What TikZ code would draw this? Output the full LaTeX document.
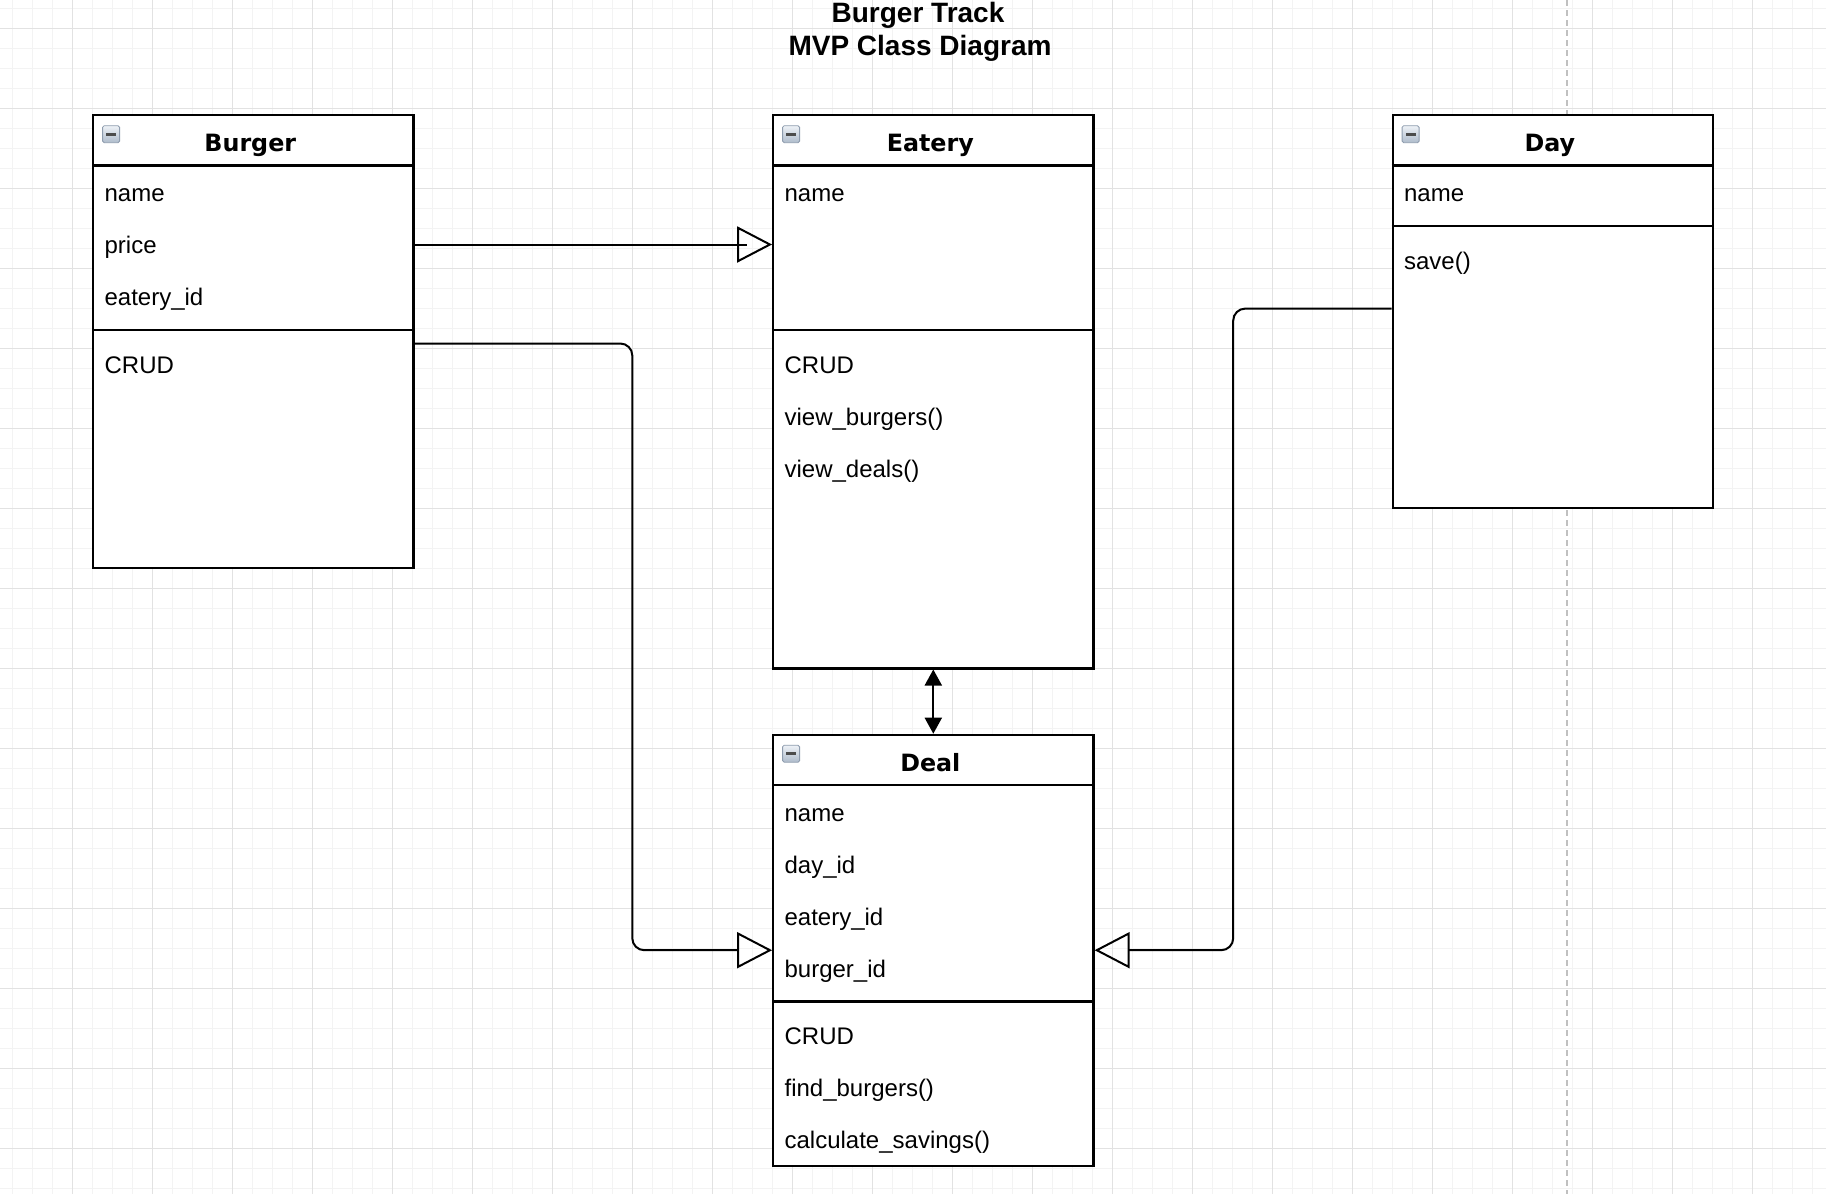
\documentclass[tikz,border=0pt]{standalone}
\usepackage{fontspec}
\setmainfont{Liberation Sans}
\newfontfamily\hdrfont{DejaVu Sans}
\usetikzlibrary{arrows.meta,fit,calc}
\definecolor{gridminor}{HTML}{F3F3F3}
\definecolor{gridmajor}{HTML}{E2E2E2}
\definecolor{dashgray}{HTML}{C0C0C0}
\definecolor{icontop}{HTML}{EEF2F7}
\definecolor{iconbot}{HTML}{AEBBCB}
\definecolor{iconedge}{HTML}{8E9CAE}
\tikzset{
  classbox/.style={draw, line width=1.1pt, fill=white, inner sep=0pt},
  sepline/.style={line width=1.1pt},
  rowtext/.style={anchor=base west, inner sep=0pt, font=\fontsize{12}{14}\selectfont},
  hdrtext/.style={anchor=base, inner sep=0pt, font=\hdrfont\bfseries\fontsize{11.9}{13}\selectfont},
  titletext/.style={anchor=base, inner sep=0pt, font=\bfseries\fontsize{14}{16}\selectfont},
  conn/.style={line width=1pt},
  gen/.style={conn, -{Triangle[open, length=17.5pt, width=18pt]}},
  assoc/.style={conn, {Triangle[length=8pt, width=8.5pt]}-{Triangle[length=8pt, width=8.5pt]}},
  iconbox/.style={draw=iconedge, line width=0.4pt, top color=icontop, bottom color=iconbot,
    minimum size=8.5pt, inner sep=0pt, rounded corners=0.8pt, anchor=north west},
  gminor/.style={draw=gridminor, line width=0.5pt},
  gmajor/.style={draw=gridmajor, line width=0.5pt},
}
\newcommand\mkicon[2]{%
  \node[iconbox] (#1) at (#2) {};
  \fill[black!70] ($(#1.center)+(-5,-1.5)$) rectangle ($(#1.center)+(5,1.5)$);
}
\begin{document}
\begin{tikzpicture}[x=0.5pt, y=-0.5pt]
\useasboundingbox (0,0) rectangle (1826,1194);
\fill[white] (0,0) rectangle (1826,1194);
% grid
\foreach \i in {0,...,90} {\draw[gminor] (12.7+20*\i,0) -- (12.7+20*\i,1194);}
\foreach \i in {0,...,59} {\draw[gminor] (0,8.3+20*\i) -- (1826,8.3+20*\i);}
\foreach \i in {0,...,21} {\draw[gmajor] (72.7+80*\i,0) -- (72.7+80*\i,1194);}
\foreach \i in {0,...,14} {\draw[gmajor] (0,28.3+80*\i) -- (1826,28.3+80*\i);}
% page break dashed line
\coordinate (pbtop) at (1566.7,0);
\coordinate (pbbot) at (1566.7,1194);
\draw[dashgray, line width=0.9pt, dash pattern=on 3pt off 2pt] (pbtop) -- (pbbot);

% title
\node[titletext] (title1) at (918,22.5) {Burger Track};
\node[titletext] (title2) at (920,55.5) {MVP Class Diagram};

% ---------- Burger ----------
\coordinate (b1) at (93.2,115.3);
\coordinate (b2) at (413.4,568.3);
\node[classbox, fit=(b1)(b2)] (burger) {};
\draw[sepline] ($(burger.north west)+(0,51.2)$) -- ($(burger.north east)+(0,51.2)$);
\draw[sepline] ($(burger.north west)+(0,215.4)$) -- ($(burger.north east)+(0,215.4)$);
\mkicon{burgericon}{102.2,125.3}
\node[hdrtext] (burgerhdr) at (250.3,151.7) {Burger};
\node[rowtext] (burger1) at (104.2,201.7) {name};
\node[rowtext] (burger2) at (104.2,253.5) {price};
\node[rowtext] (burger3) at (104.2,305.3) {eatery\_id};
\node[rowtext] (burger4) at (104.2,373) {CRUD};

% ---------- Eatery ----------
\coordinate (e1) at (773.2,115.3);
\coordinate (e2) at (1093.5,668.4);
\node[classbox, fit=(e1)(e2)] (eatery) {};
\draw[sepline] ($(eatery.north west)+(0,51.2)$) -- ($(eatery.north east)+(0,51.2)$);
\draw[sepline] ($(eatery.north west)+(0,215.4)$) -- ($(eatery.north east)+(0,215.4)$);
\mkicon{eateryicon}{782.2,125.3}
\node[hdrtext] (eateryhdr) at (930.3,151.7) {Eatery};
\node[rowtext] (eatery1) at (784.2,201.7) {name};
\node[rowtext] (eatery2) at (784.2,373) {CRUD};
\node[rowtext] (eatery3) at (784.2,425) {view\_burgers()};
\node[rowtext] (eatery4) at (784.2,477) {view\_deals()};

% ---------- Day ----------
\coordinate (d1) at (1392.7,115.3);
\coordinate (d2) at (1713,507.7);
\node[classbox, fit=(d1)(d2)] (day) {};
\draw[sepline] ($(day.north west)+(0,51.2)$) -- ($(day.north east)+(0,51.2)$);
\draw[sepline] ($(day.north west)+(0,111.7)$) -- ($(day.north east)+(0,111.7)$);
\mkicon{dayicon}{1401.7,125.3}
\node[hdrtext] (dayhdr) at (1549.8,151.7) {Day};
\node[rowtext] (day1) at (1403.7,201.7) {name};
\node[rowtext] (day2) at (1403.7,269.2) {save()};

% ---------- Deal ----------
\coordinate (l1) at (773.2,734.8);
\coordinate (l2) at (1093.5,1165.7);
\node[classbox, fit=(l1)(l2)] (deal) {};
\draw[sepline] ($(deal.north west)+(0,51.2)$) -- ($(deal.north east)+(0,51.2)$);
\draw[sepline] ($(deal.north west)+(0,267.8)$) -- ($(deal.north east)+(0,267.8)$);
\mkicon{dealicon}{782.2,744.8}
\node[hdrtext] (dealhdr) at (930.3,771.2) {Deal};
\node[rowtext] (deal1) at (784.2,821.2) {name};
\node[rowtext] (deal2) at (784.2,873.2) {day\_id};
\node[rowtext] (deal3) at (784.2,925.2) {eatery\_id};
\node[rowtext] (deal4) at (784.2,977.2) {burger\_id};
\node[rowtext] (deal5) at (784.2,1044.8) {CRUD};
\node[rowtext] (deal6) at (784.2,1096.8) {find\_burgers()};
\node[rowtext] (deal7) at (784.2,1148.8) {calculate\_savings()};

% ---------- connectors ----------
\coordinate (r1) at (0,244.5);
\coordinate (r2) at (0,343.5);
\coordinate (r3) at (0,308.6);
\coordinate (rd) at (0,950.2);
\coordinate (k2) at (632.3,0);
\coordinate (k3) at (1233.2,0);
\coordinate (kv) at (933.3,0);

\draw[gen] (burger.east |- r1) -- (eatery.west |- r1);
\draw[conn] ($(eatery.west |- r1)+(-37,0)$) -- ($(eatery.west |- r1)+(-25,0)$);

\draw[gen, rounded corners=6pt] (burger.east |- r2) -| (k2 |- rd) -- (deal.west |- rd);
\draw[gen, rounded corners=6pt] (day.west |- r3) -| (k3 |- rd) -- (deal.east |- rd);

\draw[assoc] (eatery.south -| kv) -- (deal.north -| kv);
\end{tikzpicture}
\end{document}
